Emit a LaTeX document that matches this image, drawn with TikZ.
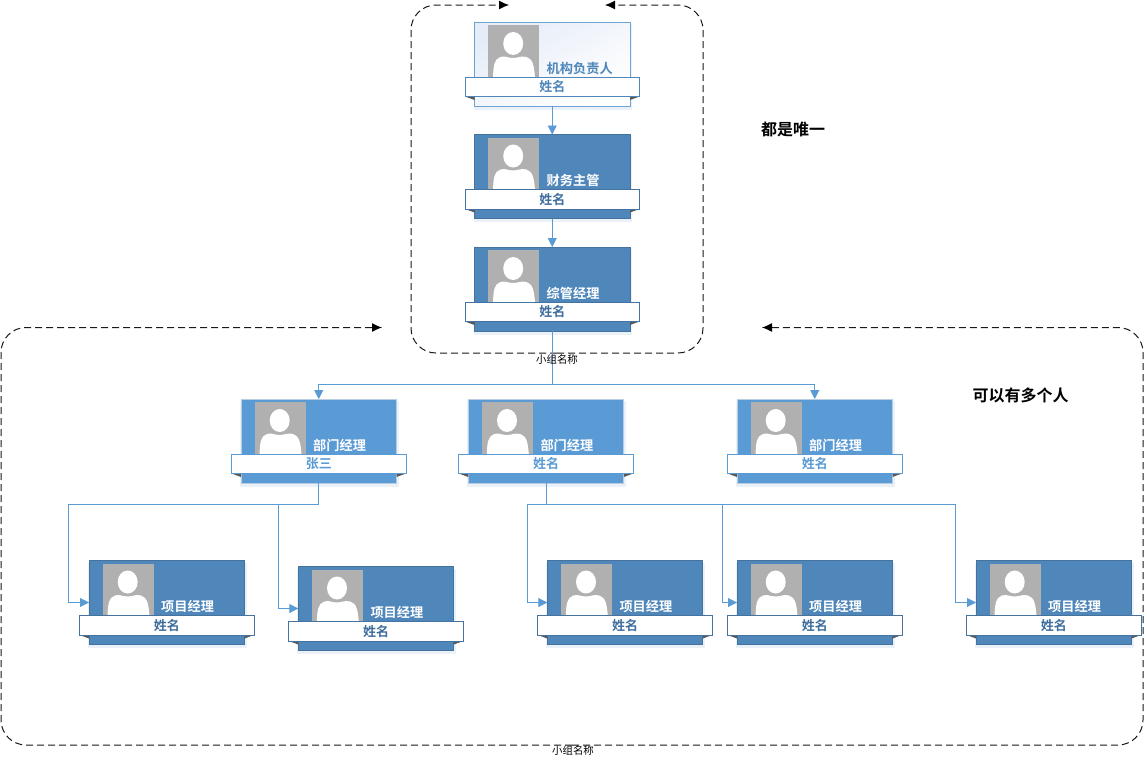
\documentclass[tikz,border=0pt]{standalone}
\usepackage{fontspec}
\setmainfont{Noto Sans CJK SC}
\newfontfamily\cjkb{Noto Sans CJK SC Bold}
\usetikzlibrary{arrows.meta,calc}
\definecolor{darkfill}{HTML}{4F87BA}
\definecolor{darkline}{HTML}{44739F}
\definecolor{midfill}{HTML}{5B9BD5}
\definecolor{midline}{HTML}{B9CDE2}
\definecolor{lightline}{HTML}{6FA3D3}
\definecolor{namedark}{HTML}{3F6E9E}
\definecolor{conncol}{HTML}{5B9BD5}
\definecolor{photogray}{HTML}{B0B0B0}
\definecolor{shadowcol}{HTML}{EAF1F8}
\definecolor{tintcol}{HTML}{E6EDF8}
\tikzset{
  cardbox/.style={rectangle,anchor=north west,minimum width=155.5pt,minimum height=84pt,inner sep=0pt,outer sep=0pt,line width=.8pt},
  photobox/.style={rectangle,anchor=north west,minimum width=51pt,minimum height=52pt,inner sep=0pt,outer sep=0pt,fill=photogray},
  bannerbox/.style={rectangle,anchor=north west,minimum width=174.6pt,minimum height=19.5pt,inner sep=0pt,outer sep=0pt,fill=white,line width=.9pt},
  titletext/.style={anchor=west,inner sep=0pt,font=\cjkb\fontsize{13.2}{15}\selectfont},
  nametext/.style={inner sep=0pt,font=\cjkb\fontsize{13}{15}\selectfont},
  conn/.style={draw=conncol,line width=.9pt,-{Triangle[length=9pt,width=9pt,fill=conncol]}},
  connplain/.style={draw=conncol,line width=.9pt},
  grp/.style={draw=black!90,line width=1pt,dash pattern=on 7pt off 4pt,rounded corners=25pt},
  grptip/.style={-{Latex[length=10pt,width=9pt,black]}},
  grouplabel/.style={inner sep=0pt,font=\fontsize{10.4}{12}\selectfont},
  notetext/.style={inner sep=0pt,font=\cjkb\fontsize{16}{18}\selectfont},
  plainfill/.style={fill=#1},
  tintfill/.style={left color=tintcol,middle color=white,right color=white,shading angle=30}
}
% #1 name, #2 x, #3 y, #4 card fill style, #5 card line, #6 title colour, #7 name colour, #8 banner line, #9 title
\newcommand{\orgcard}[9]{%
  \begin{scope}[shift={(#2,#3)}]
    \fill[shadowcol] (-1,2) rectangle (157.5,87.5);
    \node[cardbox,#4,draw=#5] (#1) at (0,0) {};
    \node[photobox] (#1p) at (13.5,3) {};
    \fill[white] (38.7,21.5) ellipse [x radius=10pt,y radius=11.5pt];
    \fill[white] (18.5,55) .. controls (19,44) and (19.5,37) .. (26,35)
       .. controls (31,33.5) and (33,36) .. (38.7,36)
       .. controls (44,36) and (46,33.5) .. (52,35)
       .. controls (58.5,37) and (59.5,44) .. (60.5,55) -- cycle;
    \node[titletext,text=#6] (#1t) at (72,46.4) {#9};
    \fill[gray!70!black] (-9.5,74.5) -- (0,74.5) -- (0,78) -- cycle;
    \fill[gray!70!black] (165,74.5) -- (155.5,74.5) -- (155.5,78) -- cycle;
    \node[bannerbox,draw=#8] (#1b) at (-9.5,55.3) {};
    \node[nametext,text=#7] (#1n) at ($(#1b.center)+(0,-.3)$) {\orgname};
  \end{scope}}
\newcommand{\orgname}{姓名}
\begin{document}
\begin{tikzpicture}[x=1pt,y=-1pt]
\useasboundingbox (0,0) rectangle (1147,763);
% groups
\coordinate (gatop) at (557,353);
\coordinate (galeft) at (411,5);
\coordinate (garight) at (703,5);
\coordinate (gatipl) at (509,5);
\coordinate (gatipr) at (605,5);
\coordinate (gbbot) at (572,745);
\coordinate (gbleft) at (1,327.5);
\coordinate (gbright) at (1143,327.5);
\coordinate (gbtipl) at (382,327.5);
\coordinate (gbtipr) at (762,327.5);
\draw[grp,grptip] (gatop) -| (galeft) -- (gatipl);
\draw[grp,grptip] (gatop) -| (garight) -- (gatipr);
\draw[grp,grptip] (gbbot) -| (gbleft) -- (gbtipl);
\draw[grp,grptip] (gbbot) -| (gbright) -- (gbtipr);
% cards
\orgcard{c1}{474.5}{22}{tintfill}{lightline}{darkfill}{darkfill}{darkfill}{机构负责人}
\orgcard{c2}{474.5}{134.5}{plainfill=darkfill}{darkline}{white}{namedark}{darkline}{财务主管}
\orgcard{c3}{474.5}{247}{plainfill=darkfill}{darkline}{white}{namedark}{darkline}{综管经理}
\renewcommand{\orgname}{张三}
\orgcard{m1}{241}{399}{plainfill=midfill}{midline}{white}{midfill}{midfill}{部门经理}
\renewcommand{\orgname}{姓名}
\orgcard{m2}{468.3}{399}{plainfill=midfill}{midline}{white}{midfill}{midfill}{部门经理}
\orgcard{m3}{737}{399}{plainfill=midfill}{midline}{white}{midfill}{midfill}{部门经理}
\orgcard{p1}{89}{560.5}{plainfill=darkfill}{darkline}{white}{namedark}{darkline}{项目经理}
\orgcard{p2}{298.3}{566.5}{plainfill=darkfill}{darkline}{white}{namedark}{darkline}{项目经理}
\orgcard{p3}{547.3}{560.5}{plainfill=darkfill}{darkline}{white}{namedark}{darkline}{项目经理}
\orgcard{p4}{737}{560.5}{plainfill=darkfill}{darkline}{white}{namedark}{darkline}{项目经理}
\orgcard{p5}{976}{560.5}{plainfill=darkfill}{darkline}{white}{namedark}{darkline}{项目经理}
% connectors
\draw[conn] (c1.south) -- (c2.north);
\draw[conn] (c2.south) -- (c3.north);
\coordinate (jtop) at ($(c3.south)+(0,53)$);
\draw[connplain] (c3.south) -- (jtop);
\draw[conn] (jtop) -| (m1.north);
\draw[conn] (jtop) -| (m3.north);
\coordinate (jl) at (68.5,504);
\coordinate (jl2) at (278,504);
\coordinate (jr) at (527,504);
\coordinate (jr2) at (722,504);
\coordinate (jr3) at (955,504);
\draw[connplain] (m1.south) |- (jl);
\draw[conn] (jl) |- (p1.west);
\draw[conn] (jl2) |- (p2.west);
\draw[connplain] (m2.south) |- (jr);
\draw[connplain] (m2.south |- jr) -- (jr3);
\draw[conn] (jr) |- (p3.west);
\draw[conn] (jr2) |- (p4.west);
\draw[conn] (jr3) |- (p5.west);
% labels
\node[grouplabel] (la) at (557,360) {小组名称};
\node[grouplabel] (lb) at (573,751) {小组名称};
\node[notetext] (n1) at (793,129.5) {都是唯一};
\node[notetext] (n2) at (1020.5,395.5) {可以有多个人};
\end{tikzpicture}
\end{document}
